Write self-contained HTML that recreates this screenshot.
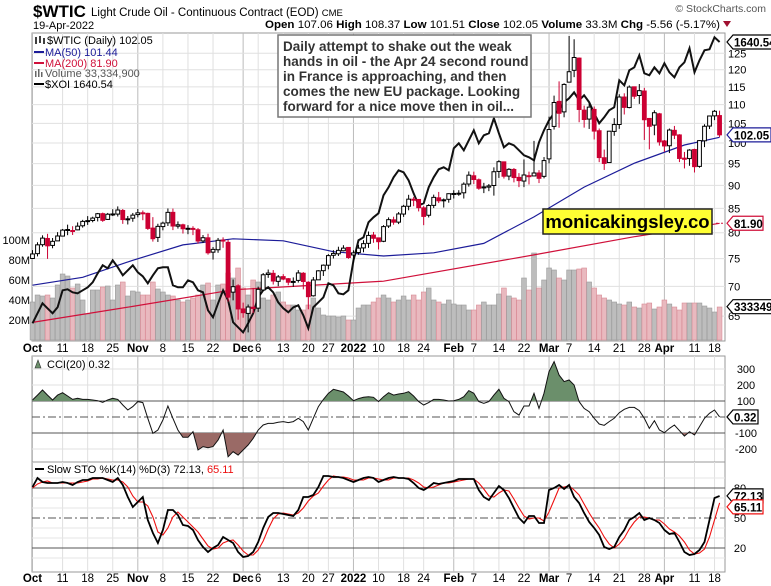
<!DOCTYPE html>
<html><head><meta charset="utf-8">
<style>
html,body{margin:0;padding:0;background:#fff;}
svg{display:block;font-family:"Liberation Sans",Arial,sans-serif;}
</style></head>
<body>
<svg id="chart" width="771" height="586" viewBox="0 0 771 586" xmlns="http://www.w3.org/2000/svg">
<rect x="0" y="0" width="771" height="586" fill="#fff"/>
<text x="33" y="17" font-size="17" font-weight="bold">$WTIC</text>
<text x="91" y="16" font-size="11.5">Light Crude Oil - Continuous Contract (EOD) <tspan font-size="9.5">CME</tspan></text>
<text x="33" y="29" font-size="11">19-Apr-2022</text>
<text x="766" y="12" font-size="10.5" fill="#555" text-anchor="end">© StockCharts.com</text>
<text x="265" y="28" font-size="11" textLength="455" lengthAdjust="spacingAndGlyphs"><tspan font-weight="bold">Open</tspan> 107.06 <tspan font-weight="bold">High</tspan> 108.37 <tspan font-weight="bold">Low</tspan> 101.51 <tspan font-weight="bold">Close</tspan> 102.05 <tspan font-weight="bold">Volume</tspan> 33.3M <tspan font-weight="bold">Chg</tspan> -5.56 (-5.17%)</text>
<polygon points="723,21 731,21 727,27" fill="#a01030"/>
<g id="main"></g>
<g id="cci"></g>
<g id="sto"></g>
</svg>
<script>
// ---------- DATA ----------
const closes = [75.88,77.62,78.93,77.43,78.30,79.35,80.52,80.64,80.44,81.31,82.28,82.44,82.96,83.87,82.50,83.76,83.76,84.65,82.66,82.81,83.57,
84.05,83.91,80.86,78.81,81.27,81.93,84.15,81.34,81.59,80.79,80.88,80.76,78.36,79.01,76.10,76.75,78.50,78.39,68.15,69.95,66.18,
65.57,66.50,66.26,69.49,72.05,72.36,70.94,71.67,71.29,70.73,70.87,72.38,70.86,68.23,71.12,72.76,73.79,75.57,75.98,76.56,76.99,75.21,
76.08,76.99,77.85,79.46,78.90,78.23,81.22,82.64,82.12,83.82,85.43,86.96,86.90,85.14,83.31,85.60,87.35,86.61,86.82,88.15,
88.20,88.26,90.27,92.31,91.32,89.36,89.66,89.88,93.10,95.46,92.07,93.66,91.76,91.07,92.35,92.10,92.81,91.59,95.72,
103.41,110.60,107.67,115.68,119.40,123.70,108.70,106.02,109.33,103.01,96.44,95.04,102.98,104.70,112.12,109.27,114.93,112.34,113.90,105.96,104.24,107.82,100.28,
99.27,103.28,101.96,96.23,96.03,98.26,94.29,100.60,104.25,106.95,108.21,102.05];
const opens = [75.03,75.94,77.65,78.86,77.51,78.39,79.33,80.55,80.43,80.57,81.39,82.44,82.47,83.10,83.88,82.69,83.82,83.79,84.55,82.69,82.94,
83.69,84.06,83.94,80.92,79.07,81.23,81.99,84.15,81.31,81.59,80.71,80.86,80.59,78.38,78.99,76.22,76.68,78.55,78.10,69.00,70.10,
66.18,65.45,66.46,66.31,69.37,72.10,72.31,70.88,71.72,71.35,70.71,71.05,72.32,70.72,68.38,71.15,72.79,73.79,75.63,75.91,76.49,77.12,
75.69,76.15,77.03,77.91,79.53,78.98,78.31,81.34,82.60,82.13,83.80,85.44,86.95,86.90,85.10,83.55,85.63,87.25,86.62,86.93,
88.05,88.18,88.35,90.30,92.17,91.25,89.43,89.61,89.97,93.17,95.42,92.10,93.63,91.80,90.97,92.19,92.13,92.81,92.04,
96.13,104.21,110.91,108.05,116.34,119.82,123.51,108.52,106.13,108.72,103.10,96.40,95.25,102.93,104.71,112.11,109.22,115.00,112.54,113.80,106.30,104.55,107.53,
100.51,99.32,103.20,102.03,96.30,96.20,98.40,94.35,100.55,104.30,106.98,107.06];
const highs = [76.60,78.12,79.48,79.78,78.95,80.11,80.75,81.62,81.30,82.07,82.60,83.37,83.25,84.03,84.10,84.03,84.81,85.41,84.86,83.40,84.03,
84.88,84.54,84.08,83.16,81.80,82.23,84.97,84.95,82.28,81.81,81.52,81.30,80.93,79.54,79.80,77.20,78.96,79.08,78.57,71.21,70.37,
67.23,66.92,69.73,69.96,72.37,73.00,72.90,72.01,72.16,71.48,71.58,72.89,72.53,70.89,71.64,72.88,73.93,75.84,76.60,77.26,77.55,77.19,
76.57,77.64,78.52,80.24,80.15,78.93,81.52,83.11,83.25,84.22,85.74,87.91,87.45,86.50,85.47,85.89,87.95,88.54,87.11,88.23,
88.91,88.92,90.67,93.17,93.12,91.55,90.57,90.30,94.12,95.82,95.51,93.94,93.96,92.78,96.00,93.12,100.54,93.47,96.56,
106.78,112.51,116.57,116.02,130.50,129.44,123.72,109.74,110.37,109.50,103.67,98.38,103.06,106.36,112.90,113.16,115.40,114.95,115.80,114.70,106.09,108.48,107.78,
100.75,103.67,104.34,102.22,97.80,98.48,98.59,100.72,104.77,107.05,108.56,108.37];
const lows = [74.93,75.42,77.26,74.96,76.96,78.39,79.29,79.51,79.55,80.49,81.02,81.57,82.10,82.28,82.19,82.59,83.38,83.29,81.78,81.66,82.21,
83.11,82.53,80.56,78.25,78.18,80.48,81.35,80.52,80.82,79.83,79.70,79.52,77.86,77.97,75.75,74.83,76.10,77.05,67.40,67.61,64.43,
64.75,62.43,65.50,65.69,69.26,71.50,70.32,70.03,71.08,70.20,69.93,70.67,69.49,66.12,68.24,71.13,71.84,73.03,75.03,75.50,76.37,74.98,
74.27,75.72,76.20,77.04,78.02,76.73,78.14,80.95,81.60,81.73,83.21,84.59,85.46,84.35,81.51,83.09,85.06,86.12,85.17,86.20,
87.10,87.69,87.10,89.72,90.29,89.01,88.28,88.71,87.73,91.68,91.54,91.16,90.67,89.60,89.60,90.20,92.15,90.51,91.58,
95.05,103.40,103.87,106.60,117.10,117.80,105.30,103.90,103.56,100.88,95.35,93.52,95.20,101.81,103.58,107.35,109.01,111.60,110.22,100.76,98.44,101.95,99.35,
97.83,97.53,100.98,95.36,93.87,94.49,92.93,94.05,98.98,103.53,105.85,101.51];
const volumes = [38,45,44,45,42,55,66,64,52,56,40,26,50,50,53,54,40,55,58,44,49,
48,45,45,58,51,48,45,44,40,38,40,42,45,55,57,40,55,56,67,62,72,
52,45,60,58,42,40,45,48,38,35,35,30,30,35,42,32,25,24,24,23,24,20,
20,32,35,35,38,42,45,42,38,40,44,40,45,40,48,52,40,38,36,40,
36,35,35,30,30,35,38,35,35,46,52,44,42,40,62,50,87,52,60,
72,70,62,60,70,70,71,72,58,52,45,42,40,38,36,35,38,33,32,36,37,31,33,
40,36,33,30,37,37,37,37,34,32,28,33];
const xoi = [1078,1098,1118,1108,1098,1110,1144,1146,1140,1138,1144,1150,1160,1178,1194,1188,1204,1190,1174,1184,1194,1180,1172,1158,1174,1188,1190,1190,1154,1150,
1150,1164,1160,1144,1140,1104,1090,1118,1144,1124,1080,1070,1060,1078,1098,1130,1144,1150,1140,1120,
1108,1100,1110,1114,1094,1068,1110,1120,1130,1158,1154,1138,1136,1144,1204,1244,1250,1280,1290,1298,
1334,1350,1370,1384,1380,1364,1338,1314,1318,1350,1370,1386,1390,1384,1428,1438,1424,1444,1464,1438,
1454,1458,1488,1458,1430,1438,1434,1424,1414,1410,1404,1440,1464,1484,1498,1504,1520,1528,1540,1524,
1534,1520,1498,1478,1490,1504,1510,1564,1554,1584,1590,1614,1578,1574,1590,1578,1598,1580,1570,1590,
1600,1628,1580,1604,1624,1626,1650,1640.54];
const ma50Idx = [0,10,20,30,40,50,60,70,80,90,100,110,120,130,137];
const ma50Val = [70.2,71.6,74.7,77.6,78.8,78.4,76.3,75.5,76.1,77.9,83.2,89.6,95.1,99.5,101.44];
const ma200Idx = [0,20,40,70,100,120,137];
const ma200Val = [64.0,66.6,69.4,70.9,75.7,79.2,81.90];
const cci = [106,137,169,137,106,137,152,131,110,117,110,110,106,102,92,106,117,110,75,44,65,96,90,-8,-102,-81,-19,69,-8,-81,
-127,-127,-92,-206,-185,-192,-185,-144,-81,-248,-217,-238,-206,-175,-133,-81,-50,-40,-40,-33,
-29,-35,-29,-8,-29,-81,-8,65,110,148,173,165,156,131,102,115,123,127,123,96,
127,152,137,144,148,158,131,96,75,90,110,110,106,100,102,110,127,165,148,96,
85,96,137,173,117,96,33,12,69,69,148,54,148,283,346,262,221,231,200,96,
54,33,-8,-44,-52,-29,-8,27,48,60,60,40,-8,-71,-23,-81,-98,-71,-50,-85,
-119,-92,-112,-60,-8,23,44,0.32];
const stoK = [81,90,86,85,85,85,86,85,83,86,88,88,90,90,90,88,86,90,83,71,61,66,71,48,35,25,38,58,58,53,
43,42,38,28,21,16,20,23,31,28,25,16,11,12,16,26,40,51,55,55,
54,53,52,58,71,71,73,81,92,92,91,91,90,88,86,88,90,91,90,86,
88,90,91,90,90,89,85,80,78,81,85,84,85,86,87,89,89,89,89,78,
71,68,75,82,78,70,60,50,45,52,52,45,45,78,80,83,79,83,71,65,
55,46,40,33,21,19,21,31,38,48,51,55,48,50,48,45,38,34,35,26,
16,13,14,18,26,48,70,72.13];
const stoD = [80,84,86,87,85,85,85,85,85,85,86,87,89,89,90,89,88,88,86,81,72,66,66,62,51,36,33,40,51,56,
51,46,41,36,29,22,19,20,25,27,28,23,17,13,13,18,27,39,49,54,
55,54,53,55,60,67,72,75,82,88,92,91,91,90,88,88,88,90,90,89,
88,88,90,90,90,90,88,85,81,80,81,83,85,85,86,87,88,89,89,85,
79,72,71,75,78,77,69,60,52,49,50,50,47,56,68,80,81,82,78,73,
64,55,47,40,31,24,20,24,30,39,46,51,51,50,48,48,44,39,36,32,
26,18,14,15,19,31,48,65.11];
const dateIdx = [0,6,11,16,21,26,31,36,42,45,50,55,59,64,69,74,78,84,88,93,98,103,107,112,117,122,126,132,136];
const dateLbl = ["Oct","11","18","25","Nov","8","15","22","Dec","6","13","20","27","2022","10","18","24","Feb","7","14","22","Mar","7","14","21","28","Apr","11","18"];
const dateBold = [1,0,0,0,1,0,0,0,1,0,0,0,0,1,0,0,0,1,0,0,0,1,0,0,0,0,1,0,0];
const priceTicks = [65,70,75,80,85,90,95,100,105,110,115,120,125];
const volTicks = [20,40,60,80,100];
const cciTicks = [300,200,100,-100,-200];
const stoTicks = [80,50,20];

// ---------- SCALES ----------
const NS = "http://www.w3.org/2000/svg";
const L = 32, R = 725;
const xI = i => 32.5 + 5.015 * i;
const yP = p => 143 - 402 * Math.log(p / 100);
const yV = v => 340 - v;
const yX = v => 42 + (1640.54 - v) / 2;
const yC = v => 417 - 0.16 * v;
const yS = v => 568 - v;
function el(tag, attrs, parent, text) {
  const e = document.createElementNS(NS, tag);
  for (const k in attrs) e.setAttribute(k, attrs[k]);
  if (text !== undefined) e.textContent = text;
  parent.appendChild(e);
  return e;
}
const gM = document.getElementById('main');
const gC = document.getElementById('cci');
const gS = document.getElementById('sto');

function panelFrame(g, top, bot, name) {
  const r = el('rect', {x: L, y: top, width: R - L, height: bot - top, fill: '#fff', stroke: '#999'}, g);
  
  
  for (let k = 0; k < dateIdx.length; k++) {
    const x = xI(dateIdx[k]);
    const ln = el('line', {x1: x, x2: x, y1: top, y2: bot, stroke: dateBold[k] ? '#bbb' : '#e0e0e0', 'stroke-width': 1}, g);
    
    
  }
}
function dateAxis(g, y) {
  for (let k = 0; k < dateIdx.length; k++) {
    const t = el('text', {x: xI(dateIdx[k]), y: y, 'font-size': 11.5, 'text-anchor': 'middle', 'font-weight': dateBold[k] ? 'bold' : 'normal'}, g, dateLbl[k]);
    
    
  }
}
function polyPts(idxs, vals, fx, fy) {
  return idxs.map((i, k) => fx(i).toFixed(1) + ',' + fy(vals[k]).toFixed(1)).join(' ');
}
const seq = n => Array.from({length: n}, (_, i) => i);

// ---------- MAIN PANEL ----------
panelFrame(gM, 33, 341, 'price-panel');
priceTicks.forEach(p => {
  const ln = el('line', {x1: L, x2: R, y1: yP(p), y2: yP(p), stroke: '#e0e0e0'}, gM);
  
  
  const t = el('text', {x: 728, y: yP(p) + 4, 'font-size': 11}, gM, String(p));
  
  
});
volTicks.forEach(v => {
  const t = el('text', {x: 30, y: yV(v) + 4, 'font-size': 11, 'text-anchor': 'end'}, gM, v + 'M');
  
  
});
closes.forEach((c, i) => {
  const down = i > 0 && c < closes[i - 1];
  const b = el('rect', {x: xI(i) - 2.4, y: yV(volumes[i]), width: 4.8, height: volumes[i], fill: down ? '#e9b9bf' : '#bdbdbd', stroke: down ? '#d88a95' : '#9a9a9a', 'stroke-width': 0.6}, gM);
  
  
});
const m200 = el('polyline', {points: polyPts(ma200Idx, ma200Val, xI, yP), fill: 'none', stroke: '#d0103a', 'stroke-width': 1.2}, gM);


const m50 = el('polyline', {points: polyPts(ma50Idx, ma50Val, xI, yP), fill: 'none', stroke: '#1c1c99', 'stroke-width': 1.2}, gM);


const xl = el('polyline', {points: polyPts(seq(xoi.length), xoi, xI, yX), fill: 'none', stroke: '#111', 'stroke-width': 2}, gM);


closes.forEach((c, i) => {
  const o = opens[i];
  const red = i > 0 && c < closes[i - 1];
  const col = red ? '#cc0033' : '#000';
  const x = xI(i);
  const w = el('line', {x1: x, x2: x, y1: yP(highs[i]), y2: yP(lows[i]), stroke: col, 'stroke-width': 1}, gM);
  
  
  const yt = yP(Math.max(o, c)), yb = yP(Math.min(o, c));
  const body = el('rect', {x: x - 1.9, y: yt, width: 3.8, height: Math.max(1, yb - yt), fill: c >= o ? '#fff' : col, stroke: col, 'stroke-width': 1}, gM);
  
  
});
const lg = el('g', {'font-size': 11}, gM);


el('text', {x: 47, y: 44}, lg, '$WTIC (Daily) 102.05');
el('line', {x1: 36, x2: 36, y1: 37, y2: 44, stroke: '#000', 'stroke-width': 1.5}, lg);
el('line', {x1: 40, x2: 40, y1: 36, y2: 43, stroke: '#000', 'stroke-width': 1.5}, lg);
el('line', {x1: 44, x2: 44, y1: 38, y2: 44, stroke: '#000', 'stroke-width': 1.5}, lg);
el('line', {x1: 34, x2: 44, y1: 52, y2: 52, stroke: '#1c1c99', 'stroke-width': 2}, lg);
el('text', {x: 45, y: 56, fill: '#1c1c99'}, lg, 'MA(50) 101.44');
el('line', {x1: 34, x2: 44, y1: 63, y2: 63, stroke: '#d0103a', 'stroke-width': 2}, lg);
el('text', {x: 45, y: 67, fill: '#d0103a'}, lg, 'MA(200) 81.90');
el('rect', {x: 35, y: 71, width: 1.5, height: 6, fill: '#666'}, lg);
el('rect', {x: 38, y: 69, width: 1.5, height: 8, fill: '#666'}, lg);
el('rect', {x: 41, y: 72, width: 1.5, height: 5, fill: '#666'}, lg);
el('text', {x: 45, y: 77, fill: '#555'}, lg, 'Volume 33,334,900');
el('line', {x1: 34, x2: 44, y1: 84, y2: 84, stroke: '#000', 'stroke-width': 2}, lg);
el('text', {x: 45, y: 88}, lg, '$XOI 1640.54');
const ab = el('g', {}, gM);


el('rect', {x: 278, y: 35, width: 253, height: 82, fill: '#fff', stroke: '#777', 'stroke-width': 1.5}, ab);
['Daily attempt to shake out the weak', 'hands in oil - the Apr 24 second round', 'in France is approaching, and then', 'comes the new EU package. Looking', 'forward for a nice move then in oil...'].forEach((s, k) => {
  el('text', {x: 283, y: 51 + k * 15, 'font-size': 13.5, 'font-weight': 'bold', fill: '#333'}, ab, s);
});
const wm = el('g', {}, gM);


el('rect', {x: 543, y: 209, width: 169, height: 25, fill: '#ffff33', stroke: '#222', 'stroke-width': 1.5}, wm);
el('text', {x: 627.5, y: 228, 'font-size': 18.5, 'font-weight': 'bold', 'text-anchor': 'middle'}, wm, 'monicakingsley.co');
function marker(g, y, txt, color, name, w) {
  const m = el('g', {}, g);
  
  
  el('polygon', {points: `${727},${y} ${733},${y - 7} ${727 + w},${y - 7} ${727 + w},${y + 7} ${733},${y + 7}`, fill: '#fff', stroke: color, 'stroke-width': 1.2}, m);
  el('text', {x: 734, y: y + 4.5, 'font-size': 11.5, 'font-weight': 'bold'}, m, txt);
  return m;
}
marker(gM, yX(1640.54), '1640.54', '#000', 'xoi-value-marker', 50);
marker(gM, yP(102.05), '102.05', '#1c1c99', 'close-value-marker', 44);
marker(gM, yP(81.90), '81.90', '#d0103a', 'ma200-value-marker', 36);
el('line', {x1: 716, x2: 726, y1: yP(81.90), y2: yP(81.90), stroke: '#d0103a', 'stroke-dasharray': '2,3'}, gM);
marker(gM, yV(33.33), '3333490', '#000', 'volume-value-marker', 50);
dateAxis(gM, 352);

// ---------- CCI PANEL ----------
panelFrame(gC, 356, 462, 'cci-panel');
cciTicks.forEach(v => {
  const ln = el('line', {x1: L, x2: R, y1: yC(v), y2: yC(v), stroke: Math.abs(v) === 100 ? '#555' : '#e0e0e0'}, gC);
  
  
  const t = el('text', {x: 746, y: yC(v) + 4, 'font-size': 11, 'text-anchor': 'middle'}, gC, String(v));
  
  
});
const z = el('line', {x1: L, x2: R, y1: yC(0), y2: yC(0), stroke: '#555', 'stroke-dasharray': '8,3,2,3'}, gC);


const defs = el('defs', {}, gC);
const cp1 = el('clipPath', {id: 'cciTop'}, defs);
el('rect', {x: L, y: 356, width: R - L, height: yC(100) - 356}, cp1);
const cp2 = el('clipPath', {id: 'cciBot'}, defs);
el('rect', {x: L, y: yC(-100), width: R - L, height: 462 - yC(-100)}, cp2);
const cciPts = polyPts(seq(cci.length), cci, xI, yC);
const n = cci.length - 1;
const fillUp = el('polygon', {points: `${xI(0)},${yC(100)} ${cciPts} ${xI(n)},${yC(100)}`, fill: '#6b8f6b', 'clip-path': 'url(#cciTop)'}, gC);


const fillDn = el('polygon', {points: `${xI(0)},${yC(-100)} ${cciPts} ${xI(n)},${yC(-100)}`, fill: '#9a6a66', 'clip-path': 'url(#cciBot)'}, gC);


const cl = el('polyline', {points: cciPts, fill: 'none', stroke: '#111', 'stroke-width': 1}, gC);


const cLg = el('text', {x: 47, y: 368, 'font-size': 11}, gC, 'CCI(20) 0.32');


el('polygon', {points: '35,368 38,360 41,368', fill: '#6b8f6b', stroke: '#333', 'stroke-width': 0.6}, gC);
marker(gC, yC(0.32), '0.32', '#000', 'cci-value-marker', 31);

// ---------- STO PANEL ----------
panelFrame(gS, 462, 572, 'stochastic-panel');
[10, 30, 40, 60, 70, 90].forEach(v => {
  const ln = el('line', {x1: L, x2: R, y1: yS(v), y2: yS(v), stroke: '#e6e6e6'}, gS);
  
  
});
stoTicks.forEach(v => {
  const ln = el('line', {x1: L, x2: R, y1: yS(v), y2: yS(v), stroke: '#555', 'stroke-dasharray': v === 50 ? '8,3,2,3' : 'none'}, gS);
  
  
  const t = el('text', {x: 740, y: yS(v) + 4, 'font-size': 11, 'text-anchor': 'middle'}, gS, String(v));
  
  
});
const dl = el('polyline', {points: polyPts(seq(stoD.length), stoD, xI, yS), fill: 'none', stroke: '#ee1111', 'stroke-width': 1.1}, gS);


const kl = el('polyline', {points: polyPts(seq(stoK.length), stoK, xI, yS), fill: 'none', stroke: '#000', 'stroke-width': 1.8}, gS);


const sLg = el('text', {x: 47, y: 473, 'font-size': 11}, gS);


el('tspan', {}, sLg, 'Slow STO %K(14) %D(3) 72.13, ');
el('tspan', {fill: '#ee1111'}, sLg, '65.11');
el('line', {x1: 35, x2: 44, y1: 469, y2: 469, stroke: '#000', 'stroke-width': 2}, gS);
marker(gS, yS(72.13), '72.13', '#000', 'sto-k-marker', 36);
marker(gS, yS(65.11) + 4, '65.11', '#ee1111', 'sto-d-marker', 36);
dateAxis(gS, 582);
</script>
</body></html>
